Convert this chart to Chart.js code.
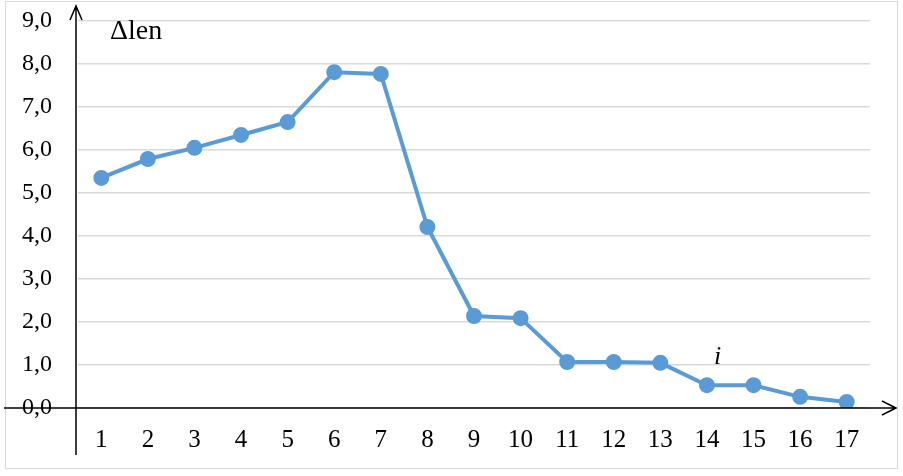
<!DOCTYPE html>
<html>
<head>
<meta charset="utf-8">
<script src="https://cdn.jsdelivr.net/npm/chart.js@4"></script>
<style>
  html, body { margin: 0; padding: 0; background: #fff; }
  #wrap { width: 903px; height: 476px; }
</style>
</head>
<body>
<div id="wrap"><canvas id="chart"></canvas></div>
<script>
// data
const categories = ['1', '2', '3', '4', '5', '6', '7', '8', '9', '10', '11', '12', '13', '14', '15', '16', '17'];
const deltaLen = [5.35, 5.79, 6.05, 6.35, 6.65, 7.81, 7.77, 4.21, 2.14, 2.09, 1.07, 1.07, 1.05, 0.53, 0.53, 0.26, 0.14];
const yTicks = [0, 1, 2, 3, 4, 5, 6, 7, 8, 9];

const serif = '"Liberation Serif", "Times New Roman", serif';

// frame, axis arrows and the axis names
const axesPlugin = {
    id: 'axesPlugin',
    afterDraw(chart) {
        const ctx = chart.ctx;
        const x0 = chart.scales.x.left;
        const y0 = chart.scales.y.getPixelForValue(0);
        const ax = x0 - 2;
        ctx.save();
        // outer frame
        ctx.strokeStyle = '#d9d9d9';
        ctx.lineWidth = 1;
        ctx.strokeRect(5.5, 1.5, 892, 467);
        // axes
        ctx.strokeStyle = '#000';
        ctx.lineWidth = 1.5;
        ctx.beginPath();
        ctx.moveTo(ax, 455);
        ctx.lineTo(ax, 6);
        ctx.moveTo(ax - 6, 20);
        ctx.lineTo(ax, 6);
        ctx.lineTo(ax + 6, 20);
        ctx.moveTo(4, y0);
        ctx.lineTo(896, y0);
        ctx.moveTo(882, y0 - 7);
        ctx.lineTo(896, y0);
        ctx.lineTo(882, y0 + 7);
        ctx.stroke();
        // labels
        ctx.fillStyle = '#000';
        ctx.font = '28px ' + serif;
        ctx.textBaseline = 'alphabetic';
        ctx.fillText('\u0394len', 110, 39);
        ctx.font = 'italic 26px ' + serif;
        ctx.fillText('i', 714, 364);
        ctx.restore();
    }
};

new Chart(document.getElementById('chart'), {
    type: 'line',
    data: {
        labels: categories,
        datasets: [{
            data: deltaLen,
            borderColor: '#5b9bd5',
            backgroundColor: '#5b9bd5',
            borderWidth: 4,
            pointRadius: 6,
            pointHoverRadius: 6,
            tension: 0
        }]
    },
    options: {
        responsive: true,
        maintainAspectRatio: false,
        animation: false,
        layout: { padding: { left: 22, right: 33, top: 21, bottom: 0 } },
        plugins: {
            legend: { display: false },
            tooltip: { enabled: false }
        },
        scales: {
            x: {
                offset: true,
                afterFit(scale) { scale.height = 68; },
                grid: { display: false, drawTicks: false },
                border: { display: false },
                ticks: {
                    color: '#000',
                    padding: 17,
                    font: { family: serif, size: 25 }
                }
            },
            y: {
                min: 0,
                max: 9,
                afterFit(scale) { scale.width = 56; },
                afterBuildTicks(axis) { axis.ticks = yTicks.map(v => ({ value: v })); },
                grid: { color: '#d9d9d9', lineWidth: 1.5, drawTicks: false },
                border: { display: false },
                ticks: {
                    color: '#000',
                    padding: 2,
                    crossAlign: 'far',
                    font: { family: serif, size: 24 },
                    callback: v => v.toFixed(1).replace('.', ',')
                }
            }
        }
    },
    plugins: [axesPlugin]
});
</script>
</body>
</html>
